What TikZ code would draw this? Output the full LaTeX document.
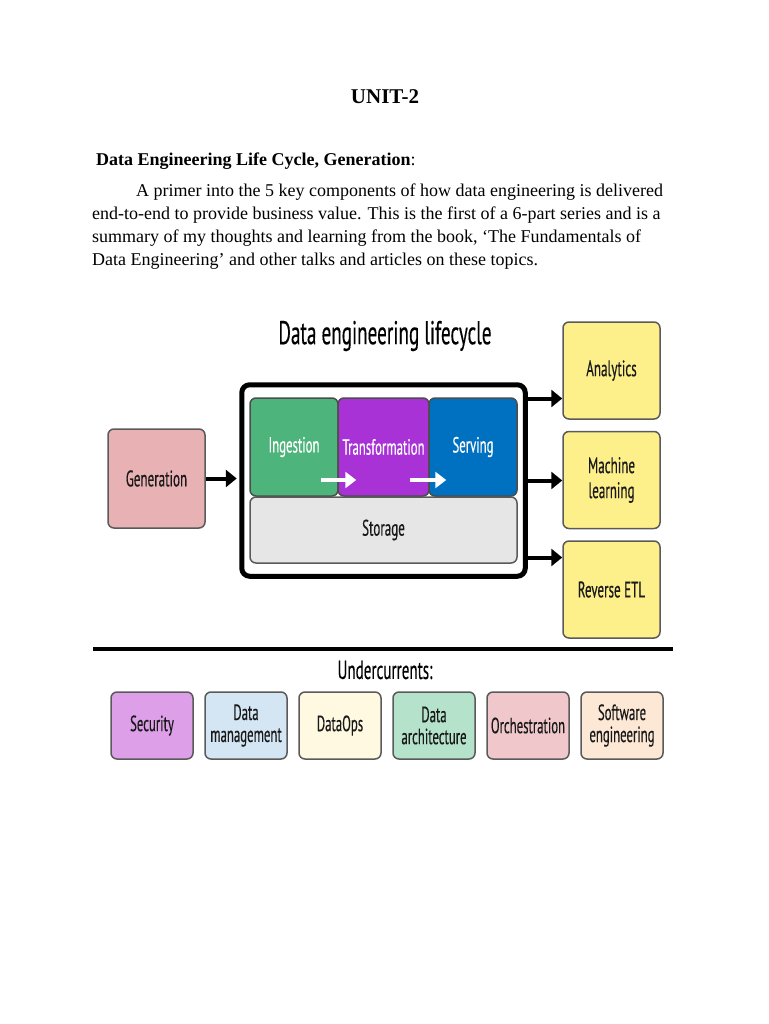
\documentclass[tikz,border=0pt]{standalone}
\usepackage{fontspec}
\setmainfont{Liberation Serif}
\newfontfamily\diagfont[FakeStretch=0.58,FakeBold=0.3]{PT Sans}
\usetikzlibrary{arrows.meta,positioning,fit,backgrounds}

\definecolor{edgegray}{HTML}{5A5A5A}
\definecolor{genpink}{HTML}{E8B1B4}
\definecolor{ingestgreen}{HTML}{4DB57B}
\definecolor{transpurple}{HTML}{A832D6}
\definecolor{serveblue}{HTML}{0070C0}
\definecolor{storegray}{HTML}{E6E6E6}
\definecolor{useyellow}{HTML}{FDF08A}
\definecolor{secpurple}{HTML}{DDA0E8}
\definecolor{mgmtblue}{HTML}{D4E6F4}
\definecolor{opscream}{HTML}{FEF9E0}
\definecolor{archmint}{HTML}{B5E2CB}
\definecolor{orchpink}{HTML}{F0C8CC}
\definecolor{swpeach}{HTML}{FDE8D5}

\begin{document}
\begin{tikzpicture}[
  x=1pt, y=-1pt,
  font=\diagfont,
  node distance=11pt and 10.5pt,
  textline/.style={
    inner sep=0pt,
    font=\fontsize{18}{23}\selectfont
  },
  box/.style={
    draw=edgegray,
    line width=1.5pt,
    rounded corners=6pt,
    align=center,
    inner sep=0pt,
    text=black!90,
    font=\diagfont\fontsize{22.5}{25}\selectfont
  },
  stagebox/.style={
    box,
    draw=black!70,
    text=white,
    minimum height=98pt,
    font=\diagfont\fontsize{22}{25}\selectfont
  },
  usebox/.style={
    box,
    fill=useyellow,
    minimum width=97pt,
    minimum height=97pt
  },
  currentbox/.style={
    box,
    minimum width=82pt,
    minimum height=67pt,
    font=\diagfont\fontsize{22}{22}\selectfont
  },
  group/.style={
    draw,
    line width=5pt,
    rounded corners=8pt,
    inner xsep=7.5pt,
    inner ysep=12.5pt
  },
  flowarrow/.style={
    -{Triangle[length=11pt,width=17pt]},
    line width=4pt
  },
  innerarrow/.style={
    -{Triangle[length=11pt,width=16pt]},
    line width=3.5pt,
    white
  }
]

\useasboundingbox (0,0) rectangle (768,1024);

% Page text
\node[textline, anchor=base, font=\bfseries\fontsize{21}{23}\selectfont] (unit) at (385,104) {UNIT-2};
\node[textline, anchor=base west] (heading) at (96,166)
  {\textbf{Data Engineering Life Cycle, Generation}:};
\node[textline, anchor=north west, align=left] (primer) at (92,184) {
  \hspace*{44pt}A primer into the 5 key components of how data engineering is delivered\\
  end-to-end to provide business value. This is the first of a 6-part series and is a\\
  summary of my thoughts and learning from the book, `The Fundamentals of\\
  Data Engineering' and other talks and articles on these topics.};

% Lifecycle
\node[font=\diagfont\fontsize{33}{36}\selectfont] (title) at (385,336) {Data engineering lifecycle};

\node[stagebox, fill=ingestgreen, minimum width=88pt] (ingest) at (294,447) {Ingestion};
\node[stagebox, fill=transpurple, minimum width=91pt] (trans) at (383.5,447) {Transformation};
\node[stagebox, fill=serveblue, minimum width=88pt] (serve) at (473,447) {Serving};
\node[box, fill=storegray, minimum width=267pt, minimum height=66pt] (storage) at (383.5,530) {Storage};

\draw[innerarrow] ([shift={(-18,33)}]ingest.east) -- ([shift={(19,33)}]trans.west);
\draw[innerarrow] ([shift={(-20,33)}]trans.east) -- ([shift={(18,33)}]serve.west);

\begin{scope}[on background layer]
  \node[group, fill=white, fit=(ingest)(trans)(serve)(storage)] (life) {};
\end{scope}

\node[box, fill=genpink, minimum width=97pt, minimum height=99pt] (gen) at (156.5,478.5) {Generation};

\node[usebox] (analytics) at (611.5,370.5) {Analytics};
\node[usebox, below=of analytics] (ml) {Machine\\learning};
\node[usebox, below=of ml] (retl) {Reverse ETL};

\draw[flowarrow, shorten >=2.5pt] (gen.east) -- (gen.east -| life.west);
\draw[flowarrow] ([yshift=82pt]life.east) -- ([yshift=82pt]life.east -| analytics.west);
\draw[flowarrow] (life.east) -- (life.east -| ml.west);
\draw[flowarrow] ([yshift=-77pt]life.east) -- ([yshift=-77pt]life.east -| retl.west);

% Undercurrents
\draw[line width=4pt] (93,649) -- (673,649);
\node[font=\diagfont\fontsize{26}{28}\selectfont] (under) at (385,670) {Undercurrents:};

\node[currentbox, fill=secpurple] (security) at (152,725.5) {Security};
\node[currentbox, fill=mgmtblue, right=of security] (datamgmt) {Data\\management};
\node[currentbox, fill=opscream, right=of datamgmt] (dataops) {DataOps};
\node[currentbox, fill=archmint, right=of dataops] (dataarch) {Data\\architecture};
\node[currentbox, fill=orchpink, right=of dataarch] (orch) {Orchestration};
\node[currentbox, fill=swpeach, right=of orch] (softeng) {Software\\engineering};

\end{tikzpicture}
\end{document}
